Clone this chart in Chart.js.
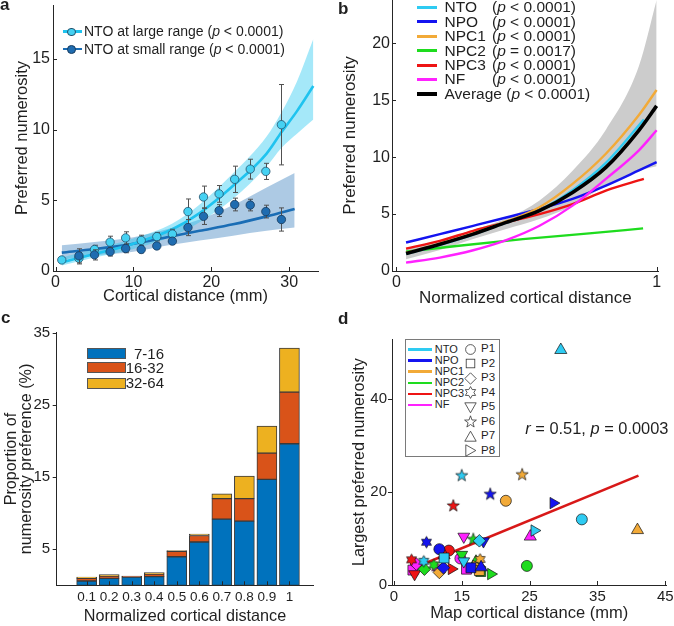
<!DOCTYPE html>
<html><head><meta charset="utf-8">
<script src="https://cdn.jsdelivr.net/npm/chart.js@4.4.1/dist/chart.umd.min.js"></script>
<style>
html,body{margin:0;padding:0;background:#fff;}
#wrap{position:relative;width:674px;height:626px;overflow:hidden;font-family:'Liberation Sans',Arial,Helvetica,sans-serif;color:#1f1f1f;}
canvas{position:absolute;}
.lbl{position:absolute;font-weight:bold;font-size:17px;line-height:1;}
.leg{position:absolute;white-space:nowrap;line-height:1;}
.sw{position:absolute;}
</style></head><body><div id="wrap">
<canvas id="ca" width="330" height="310" style="left:0;top:0"></canvas>
<canvas id="cb" width="337" height="310" style="left:337px;top:0"></canvas>
<canvas id="cc" width="337" height="316" style="left:0;top:310px"></canvas>
<canvas id="cd" width="337" height="316" style="left:337px;top:310px"></canvas>
<div class="lbl" style="left:0px;top:-4px">a</div>
<div class="lbl" style="left:338px;top:0px">b</div>
<div class="lbl" style="left:1px;top:309px">c</div>
<div class="lbl" style="left:338px;top:310px">d</div>
<div id="legs"></div>
</div>
<script>
// ---------------- DATA ----------------
// Panel a
const aXLarge = [0.8,3,5,7,9,11,13,15,17,19,21,23,25,27,29];
const aYLarge = [0.78,0.9,1.52,2.04,2.34,2.16,2.43,2.61,4.2,5.23,5.45,6.48,7.2,7.04,10.34];
const aELarge = [0.15,0.4,0.3,0.42,0.43,0.37,0.3,0.34,0.89,0.77,0.59,0.93,0.7,0.57,2.84];
const aXSmall = [3,5,7,9,11,13,15,17,19,21,23,25,27,29];
const aYSmall = [1.07,1.14,1.36,1.59,1.52,1.77,2.11,3.07,3.86,4.27,4.7,4.66,4.2,3.64];
const aESmall = [0.5,0.36,0.3,0.3,0.23,0.2,0.23,0.57,0.57,0.42,0.45,0.41,0.45,0.82];
const aFitLargeX = [0.8,5,10,15,18.5,22.8,27.1,29,31,33.1];
const aFitLargeY = [0.61,1.2,1.93,2.95,4.09,6.02,8.3,9.8,11.3,13.07];
const aBandLargeHi = [0.95,1.55,2.3,3.35,4.7,6.9,9.5,11.2,13.4,16.4];
const aBandLargeLo = [0.38,0.95,1.55,2.45,3.45,5.1,7.4,8.7,9.7,10.7];
const aFitSmallX = [0.8,5,10,14.3,18.5,22.8,27.1,30.7];
const aFitSmallY = [1.3,1.55,1.93,2.39,2.84,3.3,3.86,4.38];
const aBandSmallHi = [1.82,2.05,2.39,2.95,3.64,4.66,5.91,6.93];
const aBandSmallLo = [0.8,1.1,1.36,1.8,2.16,2.5,2.84,3.07];
const aXTicks = [0,10,20,30];
const aYTicks = [0,5,10,15];

// Panel b
const bX = [0.037,0.167,0.295,0.422,0.55,0.677,0.805,0.932,1.0];
const bXShort = [0.037,0.167,0.295,0.422,0.55,0.677,0.805,0.951];
const bX2 = [0.037,0.231,0.486,0.741,0.948];
const bNTO = [1.5,2.3,3.2,4.25,5.35,7.1,9.5,13.3];
const bNPO = [2.5,3.24,3.97,4.7,5.45,6.33,7.5,8.83,9.56];
const bNPC1 = [1.6,2.4,3.3,4.35,5.6,7.65,10.3,13.7,15.9];
const bNPC2 = [1.7,2.2,2.8,3.3,3.74];
const bNPC3 = [1.97,2.65,3.53,4.27,5.0,5.88,7.06,8.09];
const bNF = [0.74,1.18,1.82,2.71,3.97,5.74,8.09,10.6,12.36];
const bAvg = [1.53,2.35,3.24,4.27,5.3,6.9,9.1,12.36,14.5];
const bBandHi = [2.0,2.7,3.6,4.6,6.2,8.8,12.4,18.0,23.8];
const bBandLo = [1.03,1.85,2.8,3.68,4.56,5.74,7.5,8.8,9.2];
const bXTicks = [0,1];
const bYTicks = [0,5,10,15,20];
const bNames = ['NTO','NPO','NPC1','NPC2','NPC3','NF'];
const bPText = ['< 0.0001','< 0.0001','< 0.0001','= 0.0017','< 0.0001','< 0.0001'];

// Panel c
const cX = [0.1,0.2,0.3,0.4,0.5,0.6,0.7,0.8,0.9,1.0];
const cXLabels = ['0.1','0.2','0.3','0.4','0.5','0.6','0.7','0.8','0.9','1'];
const c716 = [0.6,0.97,1.15,1.2,3.96,6.0,9.18,8.9,14.67,19.61];
const c1632 = [0.37,0.32,0.14,0.36,0.74,0.9,2.82,3.1,3.65,7.16];
const c3264 = [0.18,0.18,0.0,0.19,0.1,0.2,0.69,3.14,3.74,6.09];
const cYTicks = [5,15,25,35];
const cNames = ['7-16','16-32','32-64'];

// Panel d  [x, y, participant]
const dNTO  = [[32.7,14.1,'P1'],[15.0,23.5,'P6'],[29.6,50.5,'P7'],[25.7,11.7,'P8'],[15.3,5.1,'P5'],[12.4,5.8,'P2'],[9.4,5.1,'P4'],[17.6,9.5,'P3']];
const dNPO  = [[19.2,19.5,'P6'],[9.8,9.2,'P4'],[28.5,17.6,'P8'],[11.7,7.7,'P1'],[12.3,3.7,'P3'],[16.35,3.7,'P2'],[17.85,3.8,'P7'],[18.2,9.4,'P5']];
const dNPC1 = [[21.5,18.1,'P1'],[23.9,23.7,'P6'],[40.9,11.8,'P7'],[17.7,5.5,'P4'],[17.1,4.1,'P8'],[11.7,2.7,'P3'],[17.6,3.1,'P2']];
const dNPC2 = [[24.6,4.1,'P1'],[19.3,2.35,'P8'],[16.7,9.8,'P6'],[17.8,2.9,'P2'],[17.1,5.0,'P7'],[9.5,3.4,'P3'],[10.9,4.3,'P4'],[15.0,6.5,'P5']];
const dNPC3 = [[13.75,17.0,'P6'],[13.1,7.4,'P1'],[7.6,5.4,'P4'],[13.5,3.45,'P8'],[8.05,2.35,'P5'],[12.4,6.4,'P7']];
const dNF   = [[25.1,10.4,'P7'],[15.3,10.4,'P5'],[15.7,3.4,'P2'],[14.8,5.7,'P1'],[7.8,3.2,'P2'],[8.3,4.5,'P3'],[11.3,3.7,'P4']];
const dFitX = [7.47,41.05];
const dFitY = [3.37,23.5];
const dXTicks = [5,15,25,35,45];
const dXLabels = ['0','15','25','35','45'];
const dYTicks = [0,20,40];
const dRegions = ['NTO','NPO','NPC1','NPC2','NPC3','NF'];
const dParts = ['P1','P2','P3','P4','P5','P6','P7','P8'];

// ---------------- STYLE ----------------
const COL = {NTO:'#2ecbf2',NPO:'#1414f0',NPC1:'#f2aa38',NPC2:'#1edc1e',NPC3:'#ee1414',NF:'#ff22ff'};
const LIGHT='#1fc3ef', LIGHT_PT='#45d1f2', LIGHT_BAND='rgba(40,200,240,0.42)';
const DARK='#1a6db5', DARK_PT='#1f6cb0', DARK_BAND='rgba(40,115,185,0.38)';
const AX='#262626';

Chart.defaults.font.family = "'Liberation Sans', Arial, sans-serif";
Chart.defaults.color = '#1f1f1f';
Chart.defaults.animation = false;
Chart.defaults.responsive = false;
Chart.defaults.devicePixelRatio = 1;
Chart.defaults.plugins.legend.display = false;
Chart.defaults.plugins.tooltip.enabled = false;
Chart.defaults.events = [];

const pts = (xs, ys) => xs.map((x,i)=>({x:x, y:ys[i]}));

function lin(o){
  return {
    type:'linear', min:o.min, max:o.max,
    border:{display:true,color:AX,width:1},
    grid:{display:true,drawOnChartArea:false,drawTicks:false},
    ticks:{font:{size:o.fs},color:'#1f1f1f',padding:o.tp,autoSkip:false,maxRotation:0,
      callback:(v,i)=> o.labels ? o.labels[i] : String(v)},
    title:{display:!!o.title,text:o.title,color:'#1f1f1f',font:{size:o.tfs,lineHeight:o.tlh||1.2},padding:o.tpad},
    afterBuildTicks:s=>{ s.ticks = o.vals.map(v=>({value:v})); },
    afterFit:s=>{ if(o.w!=null) s.width=o.w; if(o.h!=null) s.height=o.h;
      s.paddingLeft=0; s.paddingRight=0; s.paddingTop=0; s.paddingBottom=0; }
  };
}

const tickPlugin = { id:'mticks', afterDraw(chart, args, opts){
  const ctx = chart.ctx; ctx.save(); ctx.strokeStyle=AX; ctx.lineWidth=1; const L = opts.len || 4;
  ['x','y'].forEach(id=>{ const dir = opts[id]; if(!dir) return; const s = chart.scales[id];
    s.ticks.forEach(t=>{ const p = Math.round(s.getPixelForValue(t.value))+0.5; ctx.beginPath();
      if(id==='x'){ const y0 = chart.chartArea.bottom; ctx.moveTo(p,y0); ctx.lineTo(p, dir==='in'? y0-L : y0+L); }
      else { const x0 = chart.chartArea.left; ctx.moveTo(x0,p); ctx.lineTo(dir==='in'? x0+L : x0-L, p); }
      ctx.stroke(); }); });
  ctx.restore(); } };

const errPlugin = { id:'errbars', beforeDatasetDraw(chart, args){
  const ds = chart.data.datasets[args.index]; if(!ds.errors) return;
  const xs = chart.scales.x, ys = chart.scales.y, ctx = chart.ctx;
  ctx.save(); ctx.strokeStyle='#505050'; ctx.lineWidth=1;
  ds.data.forEach((p,i)=>{ const e = ds.errors[i]; const px = Math.round(xs.getPixelForValue(p.x))+0.5;
    const y1 = ys.getPixelForValue(p.y+e), y2 = ys.getPixelForValue(p.y-e);
    ctx.beginPath(); ctx.moveTo(px,y1); ctx.lineTo(px,y2);
    ctx.moveTo(px-2.5,y1); ctx.lineTo(px+2.5,y1); ctx.moveTo(px-2.5,y2); ctx.lineTo(px+2.5,y2); ctx.stroke(); });
  ctx.restore(); } };

const band = (data, extra) => Object.assign({data:data, borderColor:'rgba(0,0,0,0)', borderWidth:1, pointRadius:0, fill:false, cubicInterpolationMode:'monotone'}, extra);
const curve = (data, color, w, order) => ({data:data, borderColor:color, borderWidth:w, pointRadius:0, fill:false, cubicInterpolationMode:'monotone', order:order});

// ---------------- PANEL A ----------------
new Chart(document.getElementById('ca'), {
  type:'line',
  data:{datasets:[
    band(pts(aFitSmallX,aBandSmallHi), {order:10}),
    band(pts(aFitSmallX,aBandSmallLo), {order:9, fill:0, backgroundColor:DARK_BAND}),
    band(pts(aFitLargeX,aBandLargeHi), {order:8}),
    band(pts(aFitLargeX,aBandLargeLo), {order:7, fill:2, backgroundColor:LIGHT_BAND}),
    curve(pts(aFitSmallX,aFitSmallY), DARK, 2.6, 6),
    curve(pts(aFitLargeX,aFitLargeY), LIGHT, 2.6, 5),
    {data:pts(aXLarge,aYLarge), errors:aELarge, showLine:false, pointRadius:4.2, pointBackgroundColor:LIGHT_PT, pointBorderColor:'#22506c', pointBorderWidth:0.8, order:4},
    {data:pts(aXSmall,aYSmall), errors:aESmall, showLine:false, pointRadius:4.2, pointBackgroundColor:DARK_PT, pointBorderColor:'#173a5c', pointBorderWidth:0.8, order:3}
  ]},
  options:{
    layout:{padding:{left:0,right:12,top:0,bottom:0}},
    scales:{
      x: lin({min:-0.33,max:33.7,vals:aXTicks,fs:16,tp:2,title:'Cortical distance (mm)',tfs:16.5,tpad:{top:0,bottom:4},h:39}),
      y: lin({min:0,max:18.8,vals:aYTicks,fs:16,tp:3,title:'Preferred numerosity',tfs:16.5,tpad:{top:13,bottom:0},w:53})
    },
    plugins:{mticks:{x:'in',y:'in',len:4}}
  },
  plugins:[tickPlugin, errPlugin]
});

// ---------------- PANEL B ----------------
new Chart(document.getElementById('cb'), {
  type:'line',
  data:{datasets:[
    band(pts(bX,bBandHi), {order:20}),
    band(pts(bX,bBandLo), {order:19, fill:0, backgroundColor:'#cccccc'}),
    curve(pts(bX2,bNPC2), COL.NPC2, 2.4, 8),
    curve(pts(bXShort,bNPC3), COL.NPC3, 2.4, 7),
    curve(pts(bX,bNPO), COL.NPO, 2.4, 6),
    curve(pts(bX,bNF), COL.NF, 2.4, 5),
    curve(pts(bXShort,bNTO), COL.NTO, 2.4, 4),
    curve(pts(bX,bNPC1), COL.NPC1, 2.4, 3),
    curve(pts(bX,bAvg), '#000000', 3.6, 2)
  ]},
  options:{
    layout:{padding:{left:0,right:15.3,top:0,bottom:0}},
    scales:{
      x: lin({min:-0.017,max:1.008,vals:bXTicks,fs:16,tp:2,title:'Normalized cortical distance',tfs:17,tpad:{top:0,bottom:1.5},h:39}),
      y: lin({min:0,max:23.8,vals:bYTicks,fs:16,tp:2,title:'Preferred numerosity',tfs:17,tpad:{top:3,bottom:0},w:55})
    },
    plugins:{mticks:{x:'in',y:'in',len:4}}
  },
  plugins:[tickPlugin]
});

// ---------------- PANEL C ----------------
const barDs = (vals, color) => ({data:pts(cX, vals), backgroundColor:color, borderColor:'#3a3a3a', borderWidth:1, borderSkipped:false, barThickness:20});
new Chart(document.getElementById('cc'), {
  type:'bar',
  data:{datasets:[ barDs(c716,'#0072bd'), barDs(c1632,'#d95319'), barDs(c3264,'#edb120') ]},
  options:{
    layout:{padding:{left:0,right:23.7,top:22.7,bottom:0}},
    scales:{
      x: Object.assign(lin({min:0.024,max:1.049,vals:cX,labels:cXLabels,fs:13.5,tp:4,title:'Normalized cortical distance',tfs:16.2,tpad:{top:0,bottom:0},h:40.7}),{stacked:true}),
      y: Object.assign(lin({min:0,max:35,vals:cYTicks,fs:15,tp:6.5,title:['Proportion of','numerosity preference (%)'],tfs:16.2,tlh:0.93,tpad:{top:4,bottom:0},w:56.7}),{stacked:true})
    },
    plugins:{mticks:{x:'in',y:'out',len:4}}
  },
  plugins:[tickPlugin]
});

// ---------------- PANEL D ----------------
function starImg(color, n, R, rIn){
  const s = Math.ceil(2*R+3); const c = document.createElement('canvas'); c.width = s; c.height = s;
  const g = c.getContext('2d'); const cx = s/2, cy = s/2; g.beginPath();
  for(let k=0;k<2*n;k++){ const rr = k%2===0?R:rIn; const a = -Math.PI/2 + k*Math.PI/n; g.lineTo(cx+rr*Math.cos(a), cy+rr*Math.sin(a)); }
  g.closePath(); g.fillStyle=color; g.fill(); g.strokeStyle='#111'; g.lineWidth=0.7; g.stroke(); return c;
}
function styleFor(p, color){
  switch(p){
    case 'P1': return {s:'circle', r:5.5, rot:0};
    case 'P2': return {s:'rect', r:7, rot:0};
    case 'P3': return {s:'rectRot', r:6.3, rot:0};
    case 'P4': return {s:starImg(color,6,5.8,3.35), r:6, rot:0};
    case 'P5': return {s:'triangle', r:6.8, rot:180};
    case 'P6': return {s:starImg(color,5,6.4,2.6), r:6, rot:0};
    case 'P7': return {s:'triangle', r:7, rot:0};
    case 'P8': return {s:'triangle', r:6.6, rot:90};
  }
}
function regionDs(arr, name){
  const color = COL[name]; const st = arr.map(a=>styleFor(a[2], color));
  return {data:arr.map(a=>({x:a[0], y:a[1]})), showLine:false, backgroundColor:color,
    pointBackgroundColor:color, pointBorderColor:'#111', pointBorderWidth:0.7,
    pointStyle:st.map(o=>o.s), pointRadius:st.map(o=>o.r), pointRotation:st.map(o=>o.rot), order:1};
}
new Chart(document.getElementById('cd'), {
  type:'scatter',
  data:{datasets:[
    {data:pts(dFitX,dFitY), showLine:true, pointRadius:0, borderColor:'#d81818', borderWidth:2.6, order:5},
    regionDs(dNTO,'NTO'), regionDs(dNPO,'NPO'), regionDs(dNPC1,'NPC1'),
    regionDs(dNPC2,'NPC2'), regionDs(dNPC3,'NPC3'), regionDs(dNF,'NF')
  ]},
  options:{
    layout:{padding:{left:0,right:2.7,top:29.3,bottom:0}},
    scales:{
      x: lin({min:4.72,max:45.15,vals:dXTicks,labels:dXLabels,fs:15,tp:3,title:'Map cortical distance (mm)',tfs:16.5,tpad:{top:0,bottom:3},h:41}),
      y: lin({min:0,max:52.8,vals:dYTicks,fs:15,tp:5,title:'Largest preferred numerosity',tfs:16.2,tpad:{top:13,bottom:0},w:55})
    },
    plugins:{mticks:{x:'in',y:'out',len:4}}
  },
  plugins:[tickPlugin]
});

// ---------------- LEGENDS (HTML text) ----------------
const legs = document.getElementById('legs');
function add(html){ legs.insertAdjacentHTML('beforeend', html); }
// panel a
[[LIGHT, LIGHT_PT, '#22506c', 'NTO at large range', 31.7],[DARK, DARK_PT, '#173a5c', 'NTO at small range', 49]].forEach(r=>{
  add(`<div class="sw" style="left:63px;top:${r[4]-1.3}px;width:19px;height:2.6px;background:${r[0]}"></div>`);
  add(`<div class="sw" style="left:${71-4.2}px;top:${r[4]-4.2}px;width:6.8px;height:6.8px;border-radius:50%;background:${r[1]};border:0.8px solid ${r[2]}"></div>`);
  add(`<div class="leg" style="left:84px;top:${r[4]-7.4}px;font-size:14px">${r[3]} (<i>p</i> &lt; 0.0001)</div>`);
});
// panel b
bNames.forEach((n,i)=>{
  const y = 7.3 + 14.45*i;
  add(`<div class="sw" style="left:417px;top:${y-1.3}px;width:20px;height:2.8px;background:${COL[n]}"></div>`);
  add(`<div class="leg" style="left:444.5px;top:${y-8.1}px;font-size:15.5px">${n}</div>`);
  add(`<div class="leg" style="left:492px;top:${y-8.1}px;font-size:15.5px">(<i>p</i> ${bPText[i].replace('<','&lt;')})</div>`);
});
{ const y = 7.3 + 14.45*6;
  add(`<div class="sw" style="left:417px;top:${y-1.8}px;width:20px;height:3.6px;background:#000"></div>`);
  add(`<div class="leg" style="left:444.5px;top:${y-8.1}px;font-size:15.5px">Average (<i>p</i> &lt; 0.0001)</div>`); }
// panel c
[['#0072bd',353.5],['#d95319',367.5],['#edb120',383]].forEach((r,i)=>{
  add(`<div class="sw" style="left:87px;top:${r[1]-5.5}px;width:39px;height:11px;box-sizing:border-box;background:${r[0]};border:1px solid #555"></div>`);
  add(`<div class="leg" style="left:124px;width:40px;text-align:right;top:${r[1]-7.8}px;font-size:15px">${cNames[i]}</div>`);
});
// panel d
add(`<div class="sw" style="left:404.7px;top:339.3px;width:95.6px;height:117.4px;box-sizing:border-box;border:1px solid #7a7a7a;background:#fff"></div>`);
dRegions.forEach((n,i)=>{
  const y = 349.3 + 11.14*i;
  add(`<div class="sw" style="left:408px;top:${y-1.2}px;width:24px;height:2.5px;background:${COL[n]}"></div>`);
  add(`<div class="leg" style="left:434.7px;top:${y-5.7}px;font-size:11px">${n}</div>`);
});
function starPts(n,R,r,cx,cy){ let s=[]; for(let k=0;k<2*n;k++){ const rr=k%2===0?R:r; const a=-Math.PI/2+k*Math.PI/n; s.push((cx+rr*Math.cos(a)).toFixed(2)+','+(cy+rr*Math.sin(a)).toFixed(2)); } return s.join(' '); }
const svgShapes = {
  P1:'<circle cx="6.5" cy="6.5" r="4.9"/>',
  P2:'<rect x="2.2" y="2.2" width="8.6" height="8.6"/>',
  P3:'<polygon points="6.5,0.8 12.2,6.5 6.5,12.2 0.8,6.5"/>',
  P4:`<polygon points="${starPts(6,5.9,3.4,6.5,6.5)}"/>`,
  P5:'<polygon points="0.8,1.8 12.2,1.8 6.5,11.8"/>',
  P6:`<polygon points="${starPts(5,6.2,2.5,6.5,7)}"/>`,
  P7:'<polygon points="0.8,11.2 12.2,11.2 6.5,1.2"/>',
  P8:'<polygon points="1.8,0.8 11.8,6.5 1.8,12.2"/>'
};
dParts.forEach((p,i)=>{
  const y = 349.3 + 14.49*i;
  add(`<svg class="sw" style="left:${470.3-6.5}px;top:${y-6.5}px" width="13" height="13" viewBox="0 0 13 13"><g fill="#fff" stroke="#333" stroke-width="0.8">${svgShapes[p]}</g></svg>`);
  add(`<div class="leg" style="left:481px;top:${y-6}px;font-size:11.5px">${p}</div>`);
});
add(`<div class="leg" style="left:525.3px;top:${428.3-8.6}px;font-size:16.4px"><i>r</i> = 0.51, <i>p</i> = 0.0003</div>`);
</script>
</body></html>
